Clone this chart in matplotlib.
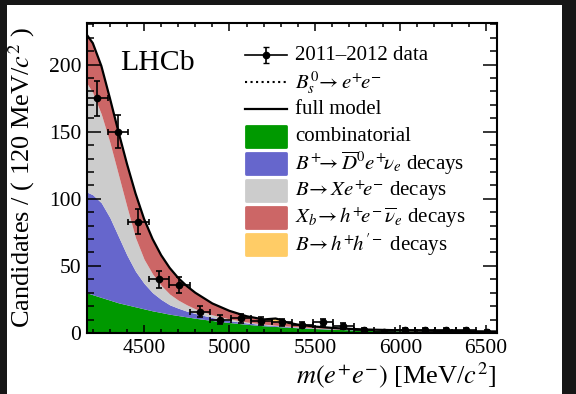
import matplotlib
matplotlib.use("Agg")
import matplotlib.pyplot as plt
from matplotlib.patches import Rectangle
from matplotlib.ticker import MultipleLocator

plt.rcParams['font.family'] = ['Liberation Serif', 'DejaVu Serif']
plt.rcParams['mathtext.fontset'] = 'stix'

# data points (bin centres, 120 MeV bins)
mass = [4226, 4346, 4466, 4586, 4706, 4826, 4946, 5066, 5186, 5306,
        5426, 5546, 5666, 5786, 5906, 6026, 6146, 6266, 6386, 6506]
counts = [175, 150, 83, 40, 36, 16, 10, 11, 9, 8,
          6, 8, 5, 2, 1, 2, 2, 2, 2, 1]
count_err = [13, 12.5, 9.5, 6.5, 6, 4, 3.2, 3.3, 3, 2.8,
             2.4, 2.8, 2.2, 1.4, 1.0, 1.4, 1.4, 1.4, 1.4, 1.0]
bin_half = 60

# fit model, stacked tops
m_grid = [4166, 4200, 4250, 4300, 4350, 4400, 4450, 4500, 4550, 4600,
          4650, 4700, 4750, 4800, 4900, 5000, 5100, 5200, 5240, 5270,
          5300, 5340, 5400, 5500, 5600, 5700, 5800, 6000, 6200, 6400, 6566]
comb_top = [30, 28.5, 26.5, 24.5, 22.5, 21, 19.5, 18, 16.5, 15.3,
            14, 13, 12, 11, 9.3, 7.8, 6.5, 5.4, 5.1, 4.9,
            4.6, 4.3, 3.9, 3.3, 2.8, 2.4, 2.1, 1.6, 1.3, 1.1, 1.0]
dstar_top = [105, 103, 97, 86, 72, 58, 46, 37, 30, 25,
             21, 18.5, 16.3, 14.5, 11.5, 9.2, 7.5, 6.2, 5.8, 5.5,
             5.2, 4.8, 4.3, 3.6, 3.0, 2.6, 2.2, 1.7, 1.35, 1.15, 1.05]
xee_top = [186, 179, 163, 142, 118, 94, 71, 55, 44, 35.5,
           29, 24.5, 21, 18, 13.5, 10.5, 8.2, 6.6, 6.2, 5.8,
           5.5, 5.1, 4.6, 3.8, 3.2, 2.7, 2.3, 1.8, 1.4, 1.2, 1.1]
xb_top = [222, 216, 199, 175, 150, 126, 104, 85, 70, 58,
          48.5, 41, 35, 30, 22, 16.5, 12.5, 9.8, 9.0, 8.5,
          8.0, 7.2, 6.2, 4.8, 3.8, 3.1, 2.6, 2.0, 1.6, 1.3, 1.15]
hh_top = [222, 216, 199, 175, 150, 126, 104, 85, 70, 58,
          48.5, 41, 35, 30, 22, 16.5, 12.5, 10.1, 10.5, 10.8,
          9.8, 7.7, 6.25, 4.8, 3.8, 3.1, 2.6, 2.0, 1.6, 1.3, 1.15]
bs_signal = [0] * len(m_grid)

colors = {
    'comb': '#009900',
    'dstar': '#6666cc',
    'xee': '#cccccc',
    'xb': '#cc6666',
    'hh': '#ffcc66',
}

fig = plt.figure(figsize=(5.76, 3.94), dpi=100, facecolor='#161616')
fig.patches.append(Rectangle((7 / 576, 0), 555 / 576, 389 / 394,
                             transform=fig.transFigure, facecolor='white',
                             edgecolor='none', zorder=-10))
ax = fig.add_axes([87 / 576, 1 - 333 / 394, 410 / 576, 310 / 394])

zeros = [0] * len(m_grid)
ax.fill_between(m_grid, zeros, comb_top, color=colors['comb'], lw=0)
ax.fill_between(m_grid, comb_top, dstar_top, color=colors['dstar'], lw=0)
ax.fill_between(m_grid, dstar_top, xee_top, color=colors['xee'], lw=0)
ax.fill_between(m_grid, xee_top, xb_top, color=colors['xb'], lw=0)
ax.fill_between(m_grid, xb_top, hh_top, color=colors['hh'], lw=0)
ax.plot(m_grid, bs_signal, ls=':', color='black', lw=1.5)
ax.plot(m_grid, hh_top, color='black', lw=1.6)

ax.errorbar(mass, counts, yerr=count_err, xerr=bin_half, fmt='o', color='black',
            ms=4.5, elinewidth=1.2, capsize=2, capthick=1.2, zorder=5)

ax.set_xlim(4166, 6566)
ax.set_ylim(0, 231)
ax.xaxis.set_major_locator(MultipleLocator(500))
ax.xaxis.set_minor_locator(MultipleLocator(100))
ax.yaxis.set_major_locator(MultipleLocator(50))
ax.yaxis.set_minor_locator(MultipleLocator(10))
ax.tick_params(which='both', direction='in', top=True, right=True, width=1.1,
               labelsize=15.5, pad=4)
ax.tick_params(axis='x', which='major', length=5.8)
ax.tick_params(axis='x', which='minor', length=2.9)
ax.tick_params(axis='y', which='major', length=10)
ax.tick_params(axis='y', which='minor', length=5)
for s in ax.spines.values():
    s.set_linewidth(1.5)

ax.set_ylabel(r'Candidates / ( 120 MeV/$c^2$ )', fontsize=19)
ax.yaxis.set_label_coords(-0.122, 0.5)
ax.set_xlabel(r'$m(e^{+}e^{-})$ [MeV/$c^2$]', fontsize=19, loc='right', labelpad=2)

ax.text(0.082, 0.87, 'LHCb', transform=ax.transAxes, fontsize=21.5, va='center')

# legend, drawn row by row in axes fraction
labels = [
    '2011\u20132012 data',
    r'$B^0_s\!\rightarrow e^{+}\!e^{-}$',
    'full model',
    'combinatorial',
    r'$B^{+}\!\!\rightarrow \overline{D}^{0} e^{+}\!\nu_e$ decays',
    r'$B\!\rightarrow X e^{+}\!e^{-}$ decays',
    r'$X_b\!\rightarrow h^{+}\!e^{-}\,\overline{\nu}_e$ decays',
    r"$B\!\rightarrow h^{+}\!h^{\prime -}$ decays",
]
patch_cols = [None, None, None, colors['comb'], colors['dstar'], colors['xee'],
              colors['xb'], colors['hh']]
hx0, hx1, tx = 0.385, 0.487, 0.507
for i, (lab, col) in enumerate(zip(labels, patch_cols)):
    y = (333 - (55 + 27.1 * i)) / 310
    if i == 0:
        ax.plot([hx0, hx1], [y, y], color='black', lw=1.2, transform=ax.transAxes)
        ax.errorbar([(hx0 + hx1) / 2], [y], yerr=[0.025], fmt='o', color='black',
                    ms=4.5, elinewidth=1.2, capsize=2, transform=ax.transAxes)
    elif i == 1:
        ax.plot([hx0, hx1], [y, y], color='black', lw=1.5, ls=':',
                transform=ax.transAxes)
    elif i == 2:
        ax.plot([hx0, hx1], [y, y], color='black', lw=1.6, transform=ax.transAxes)
    else:
        ax.add_patch(Rectangle((hx0 + 0.003, y - 0.034), hx1 - hx0 - 0.004, 0.068,
                               transform=ax.transAxes, facecolor=col,
                               edgecolor=col, lw=2, joinstyle='round'))
    ax.text(tx, y, lab, transform=ax.transAxes, fontsize=15, va='center')

fig.savefig('out.png', dpi=100, facecolor=fig.get_facecolor())
